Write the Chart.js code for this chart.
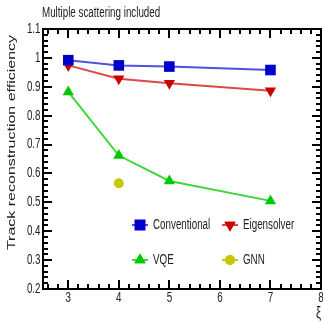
<!DOCTYPE html>
<html>
<head>
<meta charset="utf-8">
<script src="https://cdn.jsdelivr.net/npm/chart.js@4.4.1/dist/chart.umd.min.js"></script>
<style>
  html, body { margin: 0; padding: 0; background: #fff; }
  #wrap { width: 323px; height: 321px; }
</style>
</head>
<body>
<div id="wrap"><canvas id="chart" width="323" height="321"></canvas></div>
<script>
// Data
const xiValues = [3, 4, 5, 7];
const conventional = [0.992, 0.974, 0.970, 0.958];
const eigensolver = [0.974, 0.928, 0.912, 0.886];
const vqe = [0.882, 0.662, 0.574, 0.505];
const gnnX = [4];
const gnn = [0.566];

const xTicks = [3, 4, 5, 6, 7, 8];
const xMinorTicks = [2.6, 2.8, 3.2, 3.4, 3.6, 3.8, 4.2, 4.4, 4.6, 4.8, 5.2, 5.4, 5.6, 5.8,
  6.2, 6.4, 6.6, 6.8, 7.2, 7.4, 7.6, 7.8];
const yTicks = [0.2, 0.3, 0.4, 0.5, 0.6, 0.7, 0.8, 0.9, 1.0, 1.1];
const yTickLabels = ['0.2', '0.3', '0.4', '0.5', '0.6', '0.7', '0.8', '0.9', '1', '1.1'];
const yMinorStep = 0.02;

const titleText = 'Multiple scattering included';
const yTitle = 'Track reconstruction efficiency';
const xTitle = 'ξ';

const FONT = "'Liberation Sans', Arial, sans-serif";
const SQUEEZE = 0.7; // the reference text is narrow (horizontally squeezed)

// narrow text: draw with a horizontal scale
function narrowText(ctx, text, x, y, size, align) {
  ctx.save();
  ctx.translate(x, y);
  ctx.scale(SQUEEZE, 1);
  ctx.font = size + 'px ' + FONT;
  ctx.textAlign = align;
  ctx.textBaseline = 'middle';
  ctx.fillText(text, 0, 0);
  ctx.restore();
}

function toPoints(xs, ys) {
  return ys.map((y, i) => ({ x: xs[i], y: y }));
}

// frame, ROOT-style inner ticks, labels, titles and legend
const decorations = {
  id: 'decorations',
  afterDraw(chart) {
    const ctx = chart.ctx;
    const a = chart.chartArea;
    const xs = chart.scales.x;
    const ys = chart.scales.y;
    ctx.save();

    // ticks on all four sides, pointing inwards
    ctx.fillStyle = '#000';
    const tickX = (v, len) => {
      const px = Math.round(xs.getPixelForValue(v));
      ctx.fillRect(px - 1, a.bottom - len, 2, len);
      ctx.fillRect(px - 1, a.top, 2, len);
    };
    const tickY = (v, len) => {
      const py = Math.round(ys.getPixelForValue(v));
      ctx.fillRect(a.left, py - 1, len, 2);
      ctx.fillRect(a.right - len, py - 1, len, 2);
    };
    xTicks.forEach(v => tickX(v, 9));
    xMinorTicks.forEach(v => tickX(v, 5));
    yTicks.forEach(v => tickY(v, 9));
    for (let i = 0; i < yTicks.length - 1; i++) {
      for (let k = 1; k < 5; k++) tickY(yTicks[i] + k * yMinorStep, 5);
    }

    // frame
    ctx.strokeStyle = '#000';
    ctx.lineWidth = 2;
    ctx.strokeRect(a.left, a.top, a.right - a.left, a.bottom - a.top);

    // tick labels
    ctx.fillStyle = '#222';
    xTicks.forEach(v => narrowText(ctx, String(v), xs.getPixelForValue(v), 298, 14, 'center'));
    yTicks.forEach((v, i) => narrowText(ctx, yTickLabels[i], 40.5, ys.getPixelForValue(v), 14, 'right'));

    // titles
    narrowText(ctx, titleText, 42, 13, 14, 'left');
    narrowText(ctx, xTitle, 321, 314, 16, 'right');

    ctx.save();
    ctx.translate(12, 142.5);
    ctx.rotate(-Math.PI / 2);
    ctx.scale(1, SQUEEZE);
    ctx.textAlign = 'center';
    ctx.textBaseline = 'middle';
    ctx.font = '16px ' + FONT;
    ctx.fillText(yTitle, 0, 0);
    ctx.restore();

    // legend, two columns inside the frame
    const cols = [140, 230];
    const rows = [225, 260];
    chart.data.datasets.forEach((ds, i) => {
      const cx = cols[i % 2];
      const cy = rows[Math.floor(i / 2)];
      ctx.strokeStyle = ds.borderColor;
      ctx.lineWidth = 2;
      ctx.beginPath();
      ctx.moveTo(cx - 8, cy); ctx.lineTo(cx + 8, cy);
      ctx.stroke();
      ctx.fillStyle = ds.pointBackgroundColor;
      Chart.helpers.drawPoint(ctx, {
        pointStyle: ds.pointStyle,
        rotation: ds.pointRotation || 0,
        radius: ds.pointRadius,
        borderWidth: 0
      }, cx, cy);
      ctx.fill();
      ctx.fillStyle = '#222';
      narrowText(ctx, ds.label, cx + 13, cy, 14, 'left');
    });
    ctx.restore();
  }
};

new Chart(document.getElementById('chart'), {
  type: 'line',
  data: {
    datasets: [
      {
        label: 'Conventional',
        data: toPoints(xiValues, conventional),
        borderColor: 'rgb(80, 80, 225)',
        pointBackgroundColor: 'rgb(0, 0, 205)',
        pointBorderWidth: 0,
        pointStyle: 'rect',
        pointRadius: 7.5,
        borderWidth: 2
      },
      {
        label: 'Eigensolver',
        data: toPoints(xiValues, eigensolver),
        borderColor: 'rgb(225, 70, 70)',
        pointBackgroundColor: 'rgb(205, 0, 0)',
        pointBorderWidth: 0,
        pointStyle: 'triangle',
        pointRotation: 180,
        pointRadius: 6.5,
        borderWidth: 2
      },
      {
        label: 'VQE',
        data: toPoints(xiValues, vqe),
        borderColor: 'rgb(60, 215, 60)',
        pointBackgroundColor: 'rgb(0, 200, 0)',
        pointBorderWidth: 0,
        pointStyle: 'triangle',
        pointRadius: 6.5,
        borderWidth: 2
      },
      {
        label: 'GNN',
        data: toPoints(gnnX, gnn),
        borderColor: 'rgb(200, 200, 20)',
        pointBackgroundColor: 'rgb(200, 200, 0)',
        pointBorderWidth: 0,
        pointStyle: 'circle',
        pointRadius: 5,
        showLine: false,
        borderWidth: 2
      }
    ]
  },
  options: {
    responsive: false,
    animation: false,
    layout: { autoPadding: false, padding: { top: 29, right: 2, left: 0, bottom: 0 } },
    plugins: {
      legend: { display: false },
      tooltip: { enabled: false },
      title: { display: false }
    },
    elements: { line: { tension: 0 } },
    scales: {
      x: {
        type: 'linear',
        min: 2.5,
        max: 8,
        grid: { display: false, drawTicks: false },
        border: { display: false },
        afterBuildTicks: s => { s.ticks = xTicks.map(v => ({ value: v })); },
        afterFit: s => { s.height = 32; },
        ticks: { display: false }
      },
      y: {
        min: 0.2,
        max: 1.1,
        grid: { display: false, drawTicks: false },
        border: { display: false },
        afterBuildTicks: s => { s.ticks = yTicks.map(v => ({ value: v })); },
        afterFit: s => { s.width = 43; },
        ticks: { display: false }
      }
    }
  },
  plugins: [decorations]
});
</script>
</body>
</html>
